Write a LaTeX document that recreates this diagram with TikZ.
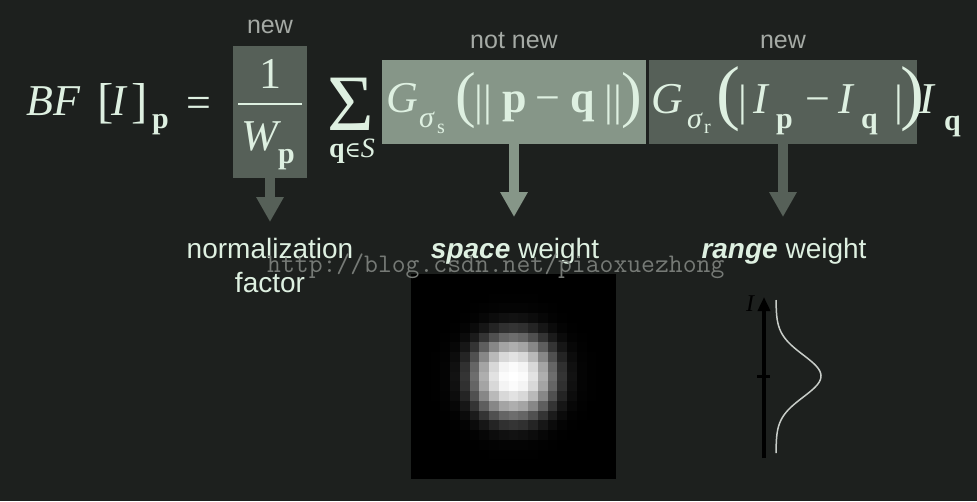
\documentclass[tikz,border=0pt]{standalone}
\usepackage{fontspec}
\setmainfont{Liberation Serif}
\newfontfamily\labelfont{Liberation Sans}
\newfontfamily\symfont{DejaVu Serif}
\usepackage{xcolor}
\usetikzlibrary{arrows.meta}
\definecolor{bgc}{RGB}{29,32,30}
\definecolor{boxnew}{RGB}{86,96,88}
\definecolor{boxold}{RGB}{134,150,136}
\definecolor{txt}{RGB}{222,240,225}
\definecolor{tag}{RGB}{165,170,165}
\definecolor{wm}{RGB}{118,122,118}
\definecolor{curve}{RGB}{200,205,200}
\newcommand\fsz[1]{\fontsize{#1}{#1}\selectfont}

\begin{document}
\begin{tikzpicture}[x=1pt,y=-1pt,
  tok/.style={anchor=base west,inner sep=0pt,text=txt},
  tag/.style={anchor=base,inner sep=0pt,text=tag,font=\labelfont\fsz{25}},
  lab/.style={anchor=base,inner sep=0pt,text=txt,font=\labelfont\fsz{28}},
  fatarrow/.style={line width=10pt,-{Triangle[width=26pt,length=25pt]}}]
  \fill[bgc] (0,0) rectangle (977,501);
  \node[fill=boxnew,minimum width=74,minimum height=132,inner sep=0pt] (wbox) at (270,112) {};
  \node[fill=boxold,minimum width=264,minimum height=84,inner sep=0pt] (sbox) at (514,102) {};
  \node[fill=boxnew,minimum width=268,minimum height=84,inner sep=0pt] (rbox) at (783,102) {};
  \node[tag] (wtag) at (270,33) {new};
  \node[tag] (stag) at (514,48) {not new};
  \node[tag] (rtag) at (783,48) {new};
  \coordinate (wtip) at (270,222);
  \coordinate (stip) at (514,217);
  \coordinate (rtip) at (783,217);
  \draw[fatarrow,boxnew] (wbox.south) -- (wtip);
  \draw[fatarrow,boxold] (sbox.south) -- (stip);
  \draw[fatarrow,boxnew] (rbox.south) -- (rtip);
  % left hand side
  \node[tok,font=\fsz{44}\itshape] (bf) at (26,115) {BF};
  \node[tok,font=\fsz{49}] (lbr) at (97,117) {[};
  \node[tok,font=\fsz{44}\itshape] (img) at (111,115) {I};
  \node[tok,font=\fsz{49}] (rbr) at (131,117) {]};
  \node[tok,font=\fsz{30}\bfseries] (bfp) at (152,128) {p};
  \node[tok,font=\fsz{44}] (eq) at (186,117) {=};
  % normalization
  \node[anchor=base,inner sep=0pt,text=txt,font=\fsz{44}] (one) at (270,88) {1};
  \draw[txt,line width=1.5pt] (238,104) -- (302,104);
  \node[tok,font=\fsz{44}\itshape] (wp) at (241,150) {W};
  \node[tok,font=\fsz{30}\bfseries] (wpp) at (278,163) {p};
  \node[anchor=base,inner sep=0pt,text depth=0pt,text=txt,font=\fsz{80}] (sum) at (351,130) {Σ};
  \node[anchor=base,inner sep=0pt,text height=14pt,text=txt,font=\fsz{28}] (qs) at (352,157) {\textbf{q}{\symfont\fsz{22}∈}\textit{S}};
  % space kernel
  \node[tok,font=\fsz{44}\itshape] (gs) at (386,112) {G};
  \node[tok,font=\fsz{30}\itshape] (sgs) at (419,127) {σ};
  \node[tok,font=\fsz{20}] (ss) at (437,133) {s};
  \node[tok,font=\fsz{62}] (lpa) at (455,115) {(};
  \node[tok,font=\fsz{44}] (nla) at (474,115) {||};
  \node[tok,font=\fsz{44}\bfseries] (pa) at (502,112) {p};
  \node[tok,font=\fsz{44}] (mia) at (535,112) {−};
  \node[tok,font=\fsz{44}\bfseries] (qa) at (570,112) {q};
  \node[tok,font=\fsz{44}] (nlb) at (604,115) {||};
  \node[tok,font=\fsz{62}] (rpa) at (621,115) {)};
  % range kernel
  \node[tok,font=\fsz{44}\itshape] (gr) at (651,113) {G};
  \node[tok,font=\fsz{30}\itshape] (sgr) at (687,128) {σ};
  \node[tok,font=\fsz{20}] (rr) at (704,133) {r};
  \node[tok,font=\fsz{72}] (lpb) at (716,116) {(};
  \node[tok,font=\fsz{44}] (ab) at (738,115) {|};
  \node[tok,font=\fsz{44}\itshape] (ip) at (753,113) {I};
  \node[tok,font=\fsz{30}\bfseries] (ipp) at (776,128) {p};
  \node[tok,font=\fsz{44}] (mib) at (805,113) {−};
  \node[tok,font=\fsz{44}\itshape] (iq) at (838,113) {I};
  \node[tok,font=\fsz{30}\bfseries] (iqq) at (861,128) {q};
  \node[tok,font=\fsz{44}] (ae) at (894,115) {|};
  \node[tok,font=\fsz{72}] (rpb) at (900,116) {)};
  \node[tok,font=\fsz{44}\itshape] (in) at (919,113) {I};
  \node[tok,font=\fsz{30}\bfseries] (inq) at (944,130) {q};
  % labels
  \node[lab] (norm) at (270,258) {normalization};
  \node[lab] (fact) at (270,292) {factor};
  \node[lab] (sw) at (515,258) {\textbf{\textit{space}} weight};
  \node[lab] (rw) at (784,258) {\textbf{\textit{range}} weight};
  % spatial gaussian
  \fill[black] (411,274) rectangle (616,479);
  \foreach \i in {0,...,20}
    \foreach \j in {0,...,20} {
      \pgfmathsetmacro\v{min(99.9,100*exp(-(((\i-10)^2+(\j-10)^2+0.01)/18)^1.4))}
      \fill[white!\v!black] (411+\i*9.762,274+\j*9.762) rectangle ++(9.8,9.8);
    }
  % range gaussian
  \draw[black,line width=4pt,-{Triangle[width=12pt,length=14pt]}] (764,458) -- (764,297);
  \draw[black,line width=3pt] (757,376) -- (770,376);
  \node[anchor=base west,inner sep=0pt,text=black,font=\fsz{24}\itshape] (ilab) at (746,311) {I};
  \draw[curve,line width=1.5pt] plot[domain=300:453,samples=80] ({776+45*exp(-((\x-376)^2)/(2*21^2))},\x);
  \node[anchor=base west,inner sep=0pt,text=wm,font=\ttfamily\fsz{26.9}] (mark) at (267,272) {http://blog.csdn.net/piaoxuezhong};
\end{tikzpicture}
\end{document}
